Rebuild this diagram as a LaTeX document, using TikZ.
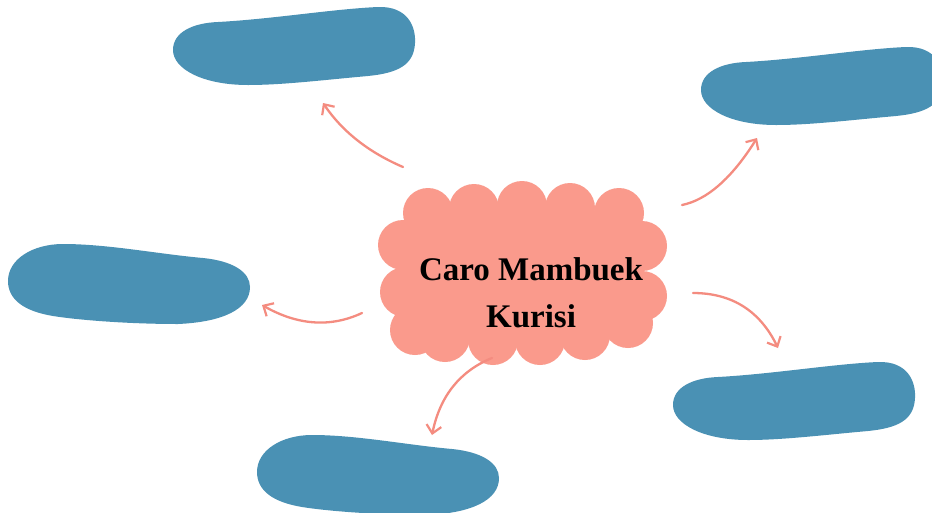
\documentclass[tikz,border=0pt]{standalone}
\usepackage{fontspec}
\newfontfamily\titlefont{Liberation Serif}
\usetikzlibrary{arrows.meta}
\definecolor{blobblue}{RGB}{74,145,180}
\definecolor{cloudpink}{RGB}{250,154,140}
\definecolor{arrowpink}{RGB}{244,140,128}
\tikzset{
  blob/.style={fill=blobblue, draw=none},
  link/.style={arrowpink, line width=2.3pt, line cap=round,
    -{Straight Barb[length=8pt,width=15pt,line width=2.2pt]}},
  % blob whose right end sits higher than its left end
  pics/blobrise/.style={code={
    \fill[blob] (0,43) .. controls (0,25) and (20,16) .. (45,15)
      .. controls (100,12) and (160,2) .. (205,0)
      .. controls (235,-1) and (243,20) .. (242,36)
      .. controls (241,58) and (225,66) .. (195,69)
      .. controls (150,73) and (110,78) .. (75,78)
      .. controls (30,78) and (0,62) .. (0,43) -- cycle;
  }},
  % blob with a fuller left end and a smaller right end
  pics/blobdip/.style={code={
    \fill[blob] (0,37) .. controls (0,15) and (25,0) .. (55,0)
      .. controls (100,0) and (150,10) .. (195,14)
      .. controls (225,17) and (242,28) .. (242,43)
      .. controls (242,65) and (215,78) .. (170,80)
      .. controls (120,80) and (70,76) .. (45,72)
      .. controls (15,67) and (0,55) .. (0,37) -- cycle;
  }},
}
\begin{document}
\begin{tikzpicture}[x=1pt, y=-1pt]
\useasboundingbox (0,0) rectangle (932,512);
\fill[white] (0,0) rectangle (932,512);

% the five empty blobs
\pic (topleft)  at (173,7)   {blobrise};
\pic (topright) at (701,47)  {blobrise};
\pic (right)    at (673,362) {blobrise};
\pic (left)     at (8,244)   {blobdip};
\pic (bottom)   at (257,435) {blobdip};

% scalloped cloud in the centre: a ring of bumps around a filled core
\begin{scope}[fill=cloudpink]
  \fill (428,213) -- (522,206) -- (619,213) -- (642,246) -- (642,296)
        -- (628,323) -- (540,340) -- (445,337) -- (415,330) -- (403,245) -- cycle;
  \foreach \p in {(428,213),(474,209),(522,206),(570,208),(619,213),
                  (642,246),(642,296),(628,323),
                  (585,335),(540,340),(493,340),(445,337),
                  (415,330),(405,292),(403,245)}{
    \fill \p circle (25);
  }
\end{scope}
\node (title) at (531,327) [anchor=base, align=center,
    font=\titlefont\bfseries\fontsize{33}{47}\selectfont]
  {Caro Mambuek\\Kurisi};

% arrow ends
\coordinate (a1s) at (403,167); \coordinate (a1e) at (323,103);
\coordinate (a2s) at (682,205); \coordinate (a2e) at (757,138);
\coordinate (a3s) at (362,313); \coordinate (a3e) at (262,305);
\coordinate (a4s) at (693,293); \coordinate (a4e) at (778,348);
\coordinate (a5s) at (492,358); \coordinate (a5e) at (432,435);

\draw[link] (a1s) .. controls (368,152) and (342,131) .. (a1e);
\draw[link] (a2s) .. controls (707,200) and (732,178) .. (a2e);
\draw[link] (a3s) .. controls (330,328) and (297,325) .. (a3e);
\draw[link] (a4s) .. controls (732,293) and (760,311) .. (a4e);
\draw[link] (a5s) .. controls (460,371) and (440,396) .. (a5e);
\end{tikzpicture}
\end{document}
